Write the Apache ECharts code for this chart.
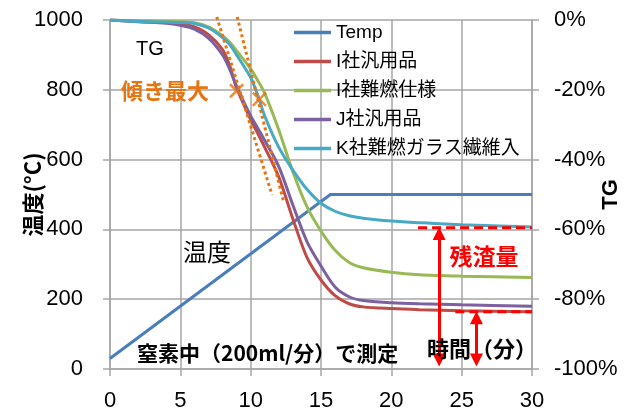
<!DOCTYPE html>
<html><head><meta charset="utf-8">
<script src="https://cdn.jsdelivr.net/npm/echarts@6/dist/echarts.min.js"></script>
<style>html,body{margin:0;padding:0;background:#fff}#c{width:629px;height:412px}</style>
</head><body><div id="c"></div>
<script>
// ---- data ----
const seriesNames = ['Temp', 'I社汎用品', 'I社難燃仕様', 'J社汎用品', 'K社難燃ガラス繊維入'];
const tempTime = [0, 15.67, 30];
const tempValues = [30, 500, 500];
const tgTime = [0, 2, 4, 5, 6, 7, 8, 8.5, 9, 10, 10.5, 11, 12, 13, 14, 15, 16, 17, 18, 20, 22, 25, 30];
const tgRedI = [0, -0.4, -0.7, -1.0, -2.0, -4.2, -8.5, -13, -19.5, -28.5, -32.5, -36.5, -45, -57, -68, -74.5, -79, -81.3, -82.2, -82.7, -83, -83.3, -83.6];
const tgGreenI = [0, -0.2, -0.4, -0.5, -0.8, -2, -4.5, -6.3, -8.8, -14, -17.3, -21, -31.5, -43.5, -53.5, -60.5, -66, -69.5, -71, -72.3, -73, -73.4, -73.8];
const tgPurpleJ = [0, -0.5, -0.9, -1.5, -2.6, -5.2, -10, -14, -19, -27.5, -31, -34.5, -42, -53, -63.5, -70.5, -76.5, -79.3, -80.4, -81, -81.3, -81.6, -82];
const tgCyanK = [0, -0.4, -0.6, -0.7, -1, -2.3, -5, -7, -10, -16.5, -21.5, -27.5, -36.5, -43, -48.5, -52.5, -54.8, -56.1, -56.8, -57.6, -58.1, -58.7, -59.3];
// annotations
const tangentA = [[7.59, 1009], [11.52, 499]];
const tangentB = [[9.04, 1009], [12.31, 484]];
const maxSlopePts = [[9.0, -20.3], [10.62, -22.7]];
const residueHigh = { from: 21.9, to: 30, level: -59.5 };
const residueLow = { from: 24.55, to: 30, level: -83.6 };
const arrowX = [23.4, 26.05];
const arrowBottom = -99.1;
const xTickLabels = { min: 0, max: 30, step: 5 };
const leftTicks = { min: 0, max: 1000, step: 200 };
const rightTicks = { min: -100, max: 0, step: 20 };

const colors = ['#4A7EBB', '#BE4B48', '#98B954', '#7D60A0', '#46AAC5'];
const orange = '#E8740E';
const gridColor = '#A6A6A6';
const numFont = 'Liberation Sans, Noto Sans CJK JP';
const jpFont = 'Noto Sans CJK JP';

const zip = (xs, ys) => xs.map((x, i) => [x, ys[i]]);
const tgSets = [tgRedI, tgGreenI, tgPurpleJ, tgCyanK];

const chart = echarts.init(document.getElementById('c'), null, { renderer: 'canvas' });
const axisLineStyle = { color: gridColor, width: 1.5 };
const inset = 1.7;

const series = [
  {
    name: seriesNames[0], type: 'line', yAxisIndex: 0, data: zip(tempTime, tempValues),
    symbol: 'none', showSymbol: false, lineStyle: { width: 3, color: colors[0] }, itemStyle: { color: colors[0] }, z: 2
  }
];
tgSets.forEach((vals, i) => {
  series.push({
    name: seriesNames[i + 1], type: 'line', yAxisIndex: 1, data: zip(tgTime, vals),
    symbol: 'none', showSymbol: false, smooth: 0.3,
    lineStyle: { width: 3, color: colors[i + 1] }, itemStyle: { color: colors[i + 1] }, z: 3
  });
});
[tangentA, tangentB].forEach((seg, i) => {
  series.push({
    name: 'tangent' + i, type: 'line', yAxisIndex: 0, data: seg, symbol: 'none', clip: false,
    lineStyle: { width: 3, color: orange, type: [3, 3], cap: 'butt' }, z: 5, silent: true
  });
});
series.push({
  name: 'maxSlope', type: 'scatter', yAxisIndex: 1, data: maxSlopePts,
  symbol: 'path://M0,1.2L1.2,0L5,3.8L8.8,0L10,1.2L6.2,5L10,8.8L8.8,10L5,6.2L1.2,10L0,8.8L3.8,5Z',
  symbolSize: 15, itemStyle: { color: orange }, z: 6, silent: true
});
[residueHigh, residueLow].forEach((r, i) => {
  const s = {
    name: 'residue' + i, type: 'line', yAxisIndex: 1,
    data: [[r.from, r.level], [r.to, r.level]], symbol: 'none',
    lineStyle: { width: 3, color: '#FF0000', type: [9, 5] }, z: 6, silent: true
  };
  s.markLine = {
    silent: true, symbol: ['triangle', 'triangle'], symbolSize: 13,
    label: { show: false },
    lineStyle: { color: '#FF0000', width: 3, type: 'solid' },
    itemStyle: { color: '#FF0000' },
    data: [[{ coord: [arrowX[i], r.level - inset] }, { coord: [arrowX[i], arrowBottom + inset] }]]
  };
  series.push(s);
});

const option = {
  animation: false,
  backgroundColor: '#fff',
  grid: { left: 110, right: 97, top: 20, bottom: 43, containLabel: false, outerBoundsMode: 'none' },
  legend: {
    orient: 'vertical', left: 289, top: 18, itemWidth: 37, itemHeight: 3.5, itemGap: 10,
    icon: 'rect',
    data: seriesNames, textStyle: { fontSize: 19, color: '#000', fontFamily: numFont, lineHeight: 19 },
    selectedMode: false
  },
  xAxis: {
    type: 'value', min: xTickLabels.min, max: xTickLabels.max, interval: xTickLabels.step,
    axisLine: { lineStyle: axisLineStyle }, axisTick: { show: true, length: 7, lineStyle: axisLineStyle },
    splitLine: { show: true, lineStyle: { color: gridColor, width: 1.5 } },
    axisLabel: { fontSize: 22, color: '#000', margin: 21, fontFamily: numFont }
  },
  yAxis: [
    {
      type: 'value', position: 'left', min: leftTicks.min, max: leftTicks.max, interval: leftTicks.step,
      name: '温度(°C)', nameLocation: 'middle', nameRotate: 90, nameGap: 66, nameMoveOverlap: false,
      nameTextStyle: { fontSize: 22, fontWeight: 'bold', color: '#000', fontFamily: jpFont },
      axisLine: { show: true, lineStyle: axisLineStyle }, axisTick: { show: true, length: 7, lineStyle: axisLineStyle },
      splitLine: { show: true, lineStyle: { color: gridColor, width: 1.5 } },
      axisLabel: { fontSize: 22, color: '#000', margin: 27, fontFamily: numFont, formatter: v => String(v) }
    },
    {
      type: 'value', position: 'right', min: rightTicks.min, max: rightTicks.max, interval: rightTicks.step,
      name: 'TG', nameLocation: 'middle', nameRotate: 90, nameGap: 68, nameMoveOverlap: false,
      nameTextStyle: { fontSize: 22, fontWeight: 'bold', color: '#000', fontFamily: numFont },
      axisLine: { show: true, lineStyle: axisLineStyle }, axisTick: { show: true, length: 7, lineStyle: axisLineStyle },
      splitLine: { show: false },
      axisLabel: { fontSize: 22, color: '#000', margin: 22, fontFamily: numFont, formatter: v => v + '%' }
    }
  ],
  graphic: [
    { type: 'text', x: 150, y: 49, z: 100, style: { text: 'TG', font: '20px Liberation Sans', fill: '#000', align: 'center', verticalAlign: 'middle' } },
    { type: 'text', x: 165, y: 91, z: 100, style: { text: '傾き最大', font: 'bold 22px Noto Sans CJK JP', fill: orange, align: 'center', verticalAlign: 'middle' } },
    { type: 'text', x: 207, y: 252, z: 100, style: { text: '温度', font: '24px Noto Sans CJK JP', fill: '#000', align: 'center', verticalAlign: 'middle' } },
    { type: 'text', x: 137, y: 353, z: 100, style: { text: '窒素中（200ml/分）で測定', font: 'bold 21px Noto Sans CJK JP', fill: '#000', align: 'left', verticalAlign: 'middle' } },
    { type: 'text', x: 427, y: 349, z: 100, style: { text: '時間（分）', font: 'bold 22px Noto Sans CJK JP', fill: '#000', align: 'left', verticalAlign: 'middle' } },
    { type: 'text', x: 484, y: 256, z: 100, style: { text: '残渣量', font: 'bold 23px Noto Sans CJK JP', fill: '#FF0000', align: 'center', verticalAlign: 'middle' } }
  ],
  series: series
};
chart.setOption(option);
</script>
</body></html>
